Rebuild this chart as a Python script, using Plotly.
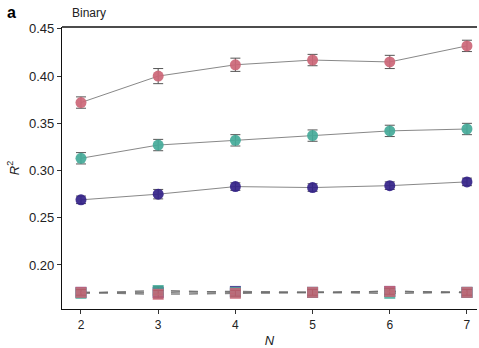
import plotly.graph_objects as go

N = [2, 3, 4, 5, 6, 7]
red_vals = [0.372, 0.400, 0.412, 0.417, 0.415, 0.432]
red_err = [0.006, 0.008, 0.007, 0.006, 0.007, 0.006]
teal_vals = [0.313, 0.327, 0.332, 0.337, 0.342, 0.344]
teal_err = [0.006, 0.006, 0.006, 0.006, 0.006, 0.006]
navy_vals = [0.269, 0.275, 0.283, 0.282, 0.284, 0.288]
navy_err = [0.004, 0.005, 0.004, 0.004, 0.004, 0.004]

navy_null = [0.171, 0.171, 0.172, 0.171, 0.172, 0.171]
teal_null = [0.170, 0.173, 0.171, 0.171, 0.170, 0.171]
red_null = [0.171, 0.169, 0.170, 0.171, 0.172, 0.171]
null_err = [0.003, 0.004, 0.003, 0.003, 0.003, 0.003]

RED = "#CC6677"
TEAL = "#44AA99"
NAVY = "#332288"

fig = go.Figure()

for vals, col in [(navy_null, NAVY), (teal_null, TEAL), (red_null, RED)]:
    fig.add_trace(go.Scatter(
        x=N, y=vals, mode="lines+markers",
        line=dict(color="rgba(110,110,110,0.85)", width=1.5, dash="dash"),
        marker=dict(symbol="square", size=11, color=col, opacity=0.85, line=dict(width=0)),
        error_y=dict(type="data", array=null_err, color="#222", thickness=1, width=5),
        showlegend=False,
    ))

for vals, errs, col in [(red_vals, red_err, RED), (teal_vals, teal_err, TEAL), (navy_vals, navy_err, NAVY)]:
    fig.add_trace(go.Scatter(
        x=N, y=vals, mode="lines+markers",
        line=dict(color="#888888", width=1),
        marker=dict(symbol="circle", size=11, color=col, opacity=0.92, line=dict(width=0)),
        error_y=dict(type="data", array=errs, color="#555", thickness=1, width=5),
        showlegend=False,
    ))

fig.update_layout(
    width=479, height=348,
    margin=dict(l=62, r=2, t=27, b=39),
    plot_bgcolor="white", paper_bgcolor="white",
    font=dict(family="Liberation Sans, Arial, sans-serif", size=13, color="#222"),
    xaxis=dict(
        range=[1.754, 7.13], tickvals=N, ticktext=[str(n) for n in N],
        showgrid=False, zeroline=False, showline=True, linecolor="#111", linewidth=1.2,
        ticks="outside", ticklen=4, tickcolor="#333", mirror=False,
        tickfont=dict(size=12),
        title=dict(text="<i>N</i>", standoff=6, font=dict(size=13)),
    ),
    yaxis=dict(
        range=[0.1534, 0.452], tickvals=[0.20, 0.25, 0.30, 0.35, 0.40, 0.45],
        ticktext=["0.20", "0.25", "0.30", "0.35", "0.40", "0.45"],
        showgrid=False, zeroline=False, showline=True, linecolor="#111", linewidth=1.2,
        ticks="outside", ticklen=4, tickcolor="#333",
        tickfont=dict(size=13),
        title=dict(text="<i>R</i><sup>2</sup>", standoff=6, font=dict(size=13)),
    ),
    shapes=[dict(type="line", xref="paper", yref="paper", x0=0, x1=1, y0=1, y1=1,
                 line=dict(color="#111", width=1.5))],
    annotations=[
        dict(text="<b>a</b>", xref="paper", yref="paper", x=-0.137, y=1.052,
             xanchor="left", yanchor="middle", showarrow=False,
             font=dict(size=16, color="#000")),
        dict(text="Binary", xref="paper", yref="paper", x=0.019, y=1.05,
             xanchor="left", yanchor="middle", showarrow=False,
             font=dict(size=12, color="#222")),
    ],
)

fig.write_html("out.html")
